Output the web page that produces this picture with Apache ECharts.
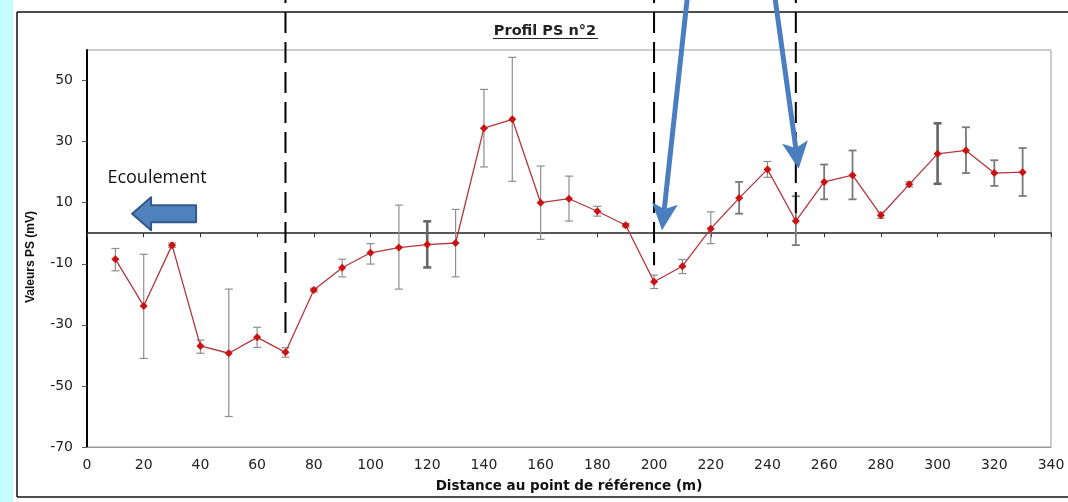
<!DOCTYPE html>
<html><head><meta charset="utf-8">
<script src="https://cdn.jsdelivr.net/npm/echarts@6/dist/echarts.min.js"></script>
<style>html,body{margin:0;padding:0;background:#fff;overflow:hidden}#c{width:1068px;height:502px}</style>
</head><body><div id="c"></div>
<script>
// ---- data ----
const distances = [10,20,30,40,50,60,70,80,90,100,110,120,130,140,150,160,170,180,190,200,210,220,230,240,250,260,270,280,290,300,310,320,330];
const psValues  = [-8.5,-23.8,-3.9,-36.9,-39.3,-34.1,-39.0,-18.6,-11.3,-6.4,-4.7,-3.7,-3.2,34.4,37.3,10.0,11.3,7.2,2.6,-15.9,-10.8,1.5,11.5,20.9,4.0,16.8,19.0,5.9,16.0,26.0,27.1,19.7,20.0];
const errLow    = [-12.3,-41.0,-4.6,-39.3,-60.0,-37.4,-40.6,-19.2,-14.3,-10.1,-18.3,-11.2,-14.3,21.7,17.0,-2.0,4.0,5.6,2.0,-18.1,-13.2,-3.4,6.4,18.3,-3.9,11.1,11.1,4.9,15.2,16.2,19.7,15.5,12.2];
const errHigh   = [-5.0,-6.9,-3.2,-35.0,-18.3,-30.8,-37.5,-18.0,-8.5,-3.4,9.2,3.9,7.8,47.1,57.6,22.0,18.7,8.8,3.2,-13.7,-8.6,7.0,16.8,23.5,12.1,22.5,27.1,6.9,16.8,36.0,34.7,23.9,27.9];
const xTicks = [0,20,40,60,80,100,120,140,160,180,200,220,240,260,280,300,320,340];
const yTicks = [-70,-50,-30,-10,10,30,50];
const titleText = 'Profil PS n°2';
const xName = 'Distance au point de référence (m)';
const yName = 'Valeurs PS (mV)';
const flowLabel = 'Ecoulement';
// annotations (data units)
const boundaryX   = [70, 200, 250];
const boundaryEnd = [-34, -10.5, 4];
const arrowFrom = [[211.6, 76.1], [242.8, 76.1]];
const arrowTo   = [[202.8, 1.0], [251.0, 21.1]];
const flowArrowTip = [15.9, 6.4];
const flowLabelPos = [7.2, 18.0];
// styles
const thickBars = [120, 300];
const mediumBars = [230, 250, 260, 270, 310, 320, 330];

const chart = echarts.init(document.getElementById('c'), null, {renderer: 'canvas'});
const F = 'DejaVu Sans';
const option = {
  animation: false,
  backgroundColor: '#fff',
  grid: {left: 87, right: 17, top: 50, bottom: 55, show: true, borderColor: '#9a9a9a', borderWidth: 1, backgroundColor: '#fff'},
  xAxis: [{
    type: 'value', min: 0, max: 340, interval: 20, position: 'bottom',
    axisLine: {onZero: false, lineStyle: {color: '#9a9a9a', width: 1}},
    axisTick: {show: false}, splitLine: {show: false},
    axisLabel: {fontFamily: F, fontSize: 14, color: '#222', margin: 11, customValues: xTicks},
    name: xName, nameLocation: 'middle', nameGap: 32,
    nameTextStyle: {fontFamily: F, fontWeight: 'bold', fontSize: 13.5, color: '#111'}
  }, {
    type: 'value', min: 0, max: 340, interval: 20,
    axisLine: {onZero: true, lineStyle: {color: '#222', width: 1.5}},
    axisTick: {show: true, inside: true, length: 4, lineStyle: {color: '#333', width: 1}},
    axisLabel: {show: false}, splitLine: {show: false}
  }],
  yAxis: {
    type: 'value', min: -70, max: 60, interval: 20,
    axisLine: {show: true, onZero: false, lineStyle: {color: '#000', width: 2}},
    axisTick: {show: true, length: 5, customValues: yTicks, lineStyle: {color: '#555'}},
    axisLabel: {fontFamily: F, fontSize: 14, color: '#222', margin: 14, customValues: yTicks},
    splitLine: {show: false},
    name: yName, nameLocation: 'middle', nameGap: 50, nameRotate: 90,
    nameTextStyle: {fontFamily: 'Liberation Sans', fontWeight: 'bold', fontSize: 12, color: '#111', padding: [0, 17, 0, 0]}
  },
  series: [{
    type: 'custom', xAxisIndex: 0, yAxisIndex: 0, z: 2,
    encode: {x: 0, y: [1, 2]},
    data: distances.map((d, i) => [d, errLow[i], errHigh[i]]),
    renderItem: function (params, api) {
      const x = api.value(0);
      const lo = api.coord([x, api.value(1)]);
      const hi = api.coord([x, api.value(2)]);
      let style = {stroke: '#8e8e8e', lineWidth: 1.2};
      if (thickBars.indexOf(x) >= 0) style = {stroke: '#666', lineWidth: 2.6};
      else if (mediumBars.indexOf(x) >= 0) style = {stroke: '#7a7a7a', lineWidth: 1.8};
      const c = 4;
      return {type: 'group', children: [
        {type: 'line', shape: {x1: lo[0], y1: lo[1], x2: hi[0], y2: hi[1]}, style: style},
        {type: 'line', shape: {x1: lo[0] - c, y1: lo[1], x2: lo[0] + c, y2: lo[1]}, style: style},
        {type: 'line', shape: {x1: hi[0] - c, y1: hi[1], x2: hi[0] + c, y2: hi[1]}, style: style}
      ]};
    }
  }, {
    type: 'line', xAxisIndex: 0, yAxisIndex: 0, z: 3,
    data: distances.map((d, i) => [d, psValues[i]]),
    symbol: 'diamond', symbolSize: 8,
    itemStyle: {color: '#cc1111'},
    lineStyle: {color: '#b3363c', width: 1.3}
  }]
};
chart.setOption(option);

function px(p) { return chart.convertToPixel({xAxisIndex: 0, yAxisIndex: 0}, p); }
const g = [];
g.push({type: 'rect', shape: {x: 0, y: 0, width: 13, height: 502}, style: {fill: '#c6feff'}, z: 0});
const bs = {stroke: '#111', lineWidth: 1.5};
g.push({type: 'line', shape: {x1: 17, y1: 12, x2: 1068, y2: 12}, style: bs, z: 1});
g.push({type: 'line', shape: {x1: 17, y1: 12, x2: 17, y2: 497}, style: bs, z: 1});
g.push({type: 'line', shape: {x1: 17, y1: 497, x2: 1068, y2: 497}, style: bs, z: 1});
g.push({type: 'text', x: 545, y: 31, style: {text: titleText, font: 'bold 14.5px "DejaVu Sans"', fill: '#222', align: 'center', verticalAlign: 'middle'}, z: 5});
g.push({type: 'line', shape: {x1: 493, y1: 38.5, x2: 598, y2: 38.5}, style: {stroke: '#222', lineWidth: 1}, z: 5});
boundaryX.forEach((bx, i) => {
  const top = px([bx, 60]);
  const bot = px([bx, boundaryEnd[i]]);
  g.push({type: 'line', shape: {x1: top[0], y1: -18, x2: bot[0], y2: bot[1]},
    style: {stroke: '#000', lineWidth: 2, lineDash: [21, 9]}, z: 50});
});
arrowFrom.forEach((f, i) => {
  const a = px(f), b = px(arrowTo[i]);
  const dx = b[0] - a[0], dy = b[1] - a[1], L = Math.hypot(dx, dy);
  const ux = dx / L, uy = dy / L, nx = -uy, ny = ux;
  const HL = 27, HW = 13, notch = 6;
  const base = [b[0] - ux * HL, b[1] - uy * HL];
  const inner = [b[0] - ux * (HL - notch), b[1] - uy * (HL - notch)];
  g.push({type: 'line', shape: {x1: a[0] - ux * 20, y1: a[1] - uy * 20, x2: inner[0], y2: inner[1]},
    style: {stroke: '#4a7ebf', lineWidth: 5}, z: 60});
  g.push({type: 'polygon', shape: {points: [b, [base[0] + nx * HW, base[1] + ny * HW], inner, [base[0] - nx * HW, base[1] - ny * HW]]},
    style: {fill: '#4a7ebf'}, z: 60});
});
const t = px(flowArrowTip);
const tx = t[0], ty = t[1];
g.push({type: 'polygon', shape: {points: [[tx, ty], [tx + 19, ty - 16.5], [tx + 19, ty - 8.5], [tx + 64, ty - 8.5], [tx + 64, ty + 8.5], [tx + 19, ty + 8.5], [tx + 19, ty + 16.5]]},
  style: {fill: '#4f81bd', stroke: '#33598c', lineWidth: 2, lineJoin: 'round'}, z: 60});
const lp = px(flowLabelPos);
g.push({type: 'text', x: lp[0], y: lp[1], style: {text: flowLabel, font: '18px "Open Sans"', fill: '#111', align: 'left', verticalAlign: 'middle'}, z: 60});
chart.setOption({graphic: g});
</script>
</body></html>
